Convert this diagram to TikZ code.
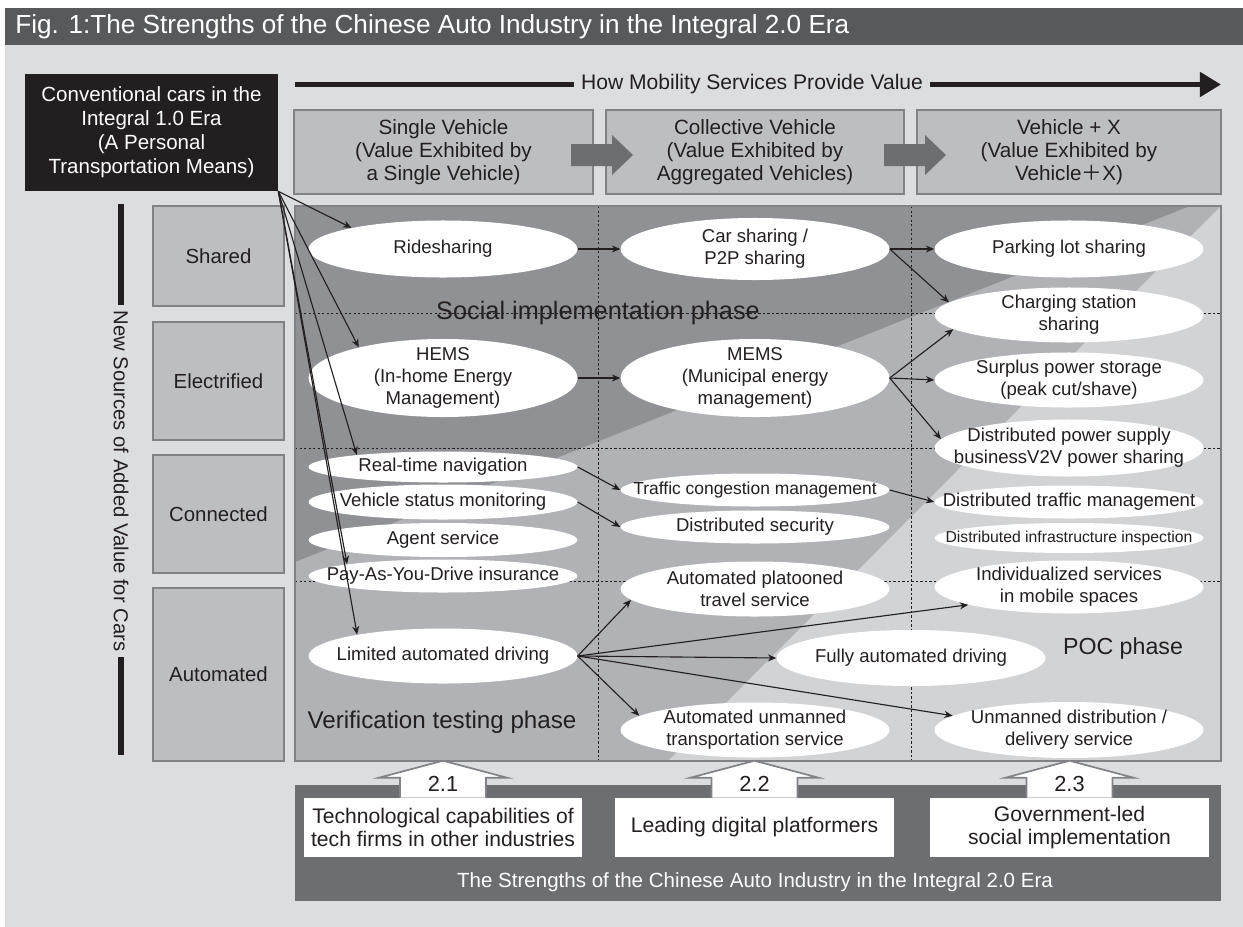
\documentclass[tikz,border=0pt]{standalone}
\usepackage{fontspec}
\setmainfont{Liberation Sans}
\newfontfamily\cjk{Noto Sans CJK SC}
\usetikzlibrary{shapes.geometric,arrows.meta}

\definecolor{inkblack}{HTML}{231F20}
\definecolor{titlegray}{HTML}{58595B}
\definecolor{bggray}{HTML}{DCDDDF}
\definecolor{boxgray}{HTML}{BCBEC0}
\definecolor{edgegray}{HTML}{808285}
\definecolor{darkzone}{HTML}{8F9194}
\definecolor{midzone}{HTML}{B0B2B5}
\definecolor{lightzone}{HTML}{D1D3D4}
\definecolor{bandgray}{HTML}{6D6E71}

\begin{document}
\begin{tikzpicture}[
                    x=0.025cm, y=-0.025cm,
                    txt/.style={align=center, text=inkblack, inner sep=0pt,
                        font=\fontsize{13.2}{15.5}\selectfont},
                    ell/.style={ellipse, fill=white, inner sep=0pt,
                        minimum width=6.72cm, minimum height=#1},
                    hdr/.style={draw=edgegray, line width=1.4pt, fill=boxgray,
                        minimum width=7.45cm, minimum height=2.1cm, align=center,
                        text=inkblack, font=\fontsize{14.7}{16.6}\selectfont},
                    cat/.style={draw=edgegray, line width=1.4pt, fill=boxgray,
                        minimum width=3.275cm, minimum height=#1,
                        text=inkblack, font=\fontsize{14.5}{17}\selectfont},
                    strength/.style={fill=white, minimum width=6.95cm,
                        minimum height=1.475cm, align=center, text=inkblack,
                        inner sep=0pt, font=\fontsize{15}{16.8}\selectfont},
                    phase/.style={text=inkblack, inner sep=0pt,
                        font=\fontsize{#1}{#1}\selectfont},
                    flow/.style={-{Stealth[length=6pt,width=5pt]},
                        line width=0.8pt, draw=inkblack},
                    gridline/.style={draw=inkblack, line width=0.5pt,
                        dash pattern=on 1.6pt off 1.6pt}
                ]
                    \useasboundingbox (0,0) rectangle (1243,927);

                    % Background and title
                    \fill[bggray] (5,45) rectangle (1243,927);
                    \fill[titlegray] (5,8) rectangle (1243,45);
                    \node[anchor=west, text=white, inner sep=0pt,
                        font=\fontsize{18.6}{20}\selectfont] (title) at (15,27)
                        {Fig. 1:The Strengths of the Chinese Auto Industry in the Integral 2.0 Era};

                    % Phases
                    \fill[midzone] (295,206) rectangle (1221,761);
                    \fill[darkzone] (295,206) -- (1190,206) -- (295,562) -- cycle;
                    \fill[lightzone] (1221,206) -- (1221,761) -- (668,761) -- cycle;
                    \foreach \y in {313,448,581}
                        \draw[gridline] (295,\y) -- (1221,\y);
                    \foreach \x in {598,911}
                        \draw[gridline] (\x,206) -- (\x,761);
                    \draw[edgegray, line width=1.4pt] (295,206) rectangle (1221,761);
                    \node[phase=18] (social) at (598,313) {Social implementation phase};
                    \node[phase=17.2] (verif) at (442,722) {Verification testing phase};
                    \node[phase=16.5] (poc) at (1123,648) {POC phase};

                    % Value axis
                    \coordinate (vstart) at (295,84.5);
                    \coordinate (vend) at (1221,84.5);
                    \draw[inkblack, line width=3.9pt,
                        -{Triangle[length=15pt,width=17pt]}] (vstart) -- (vend);
                    \node[fill=bggray, inner xsep=5pt, text=inkblack,
                        font=\fontsize{15}{16}\selectfont] (howval) at (752,84.5)
                        {How Mobility Services Provide Value};

                    \node[fill=inkblack, minimum width=6.325cm, minimum height=2.925cm,
                        align=center, text=white, font=\fontsize{14.6}{17}\selectfont]
                        (conv) at (151.5,132.5)
                        {Conventional cars in the\\Integral 1.0 Era\\(A Personal\\Transportation Means)};

                    \node[hdr] (single) at (443.5,152) {Single Vehicle\\(Value Exhibited by\\a Single Vehicle)};
                    \node[hdr] (collect) at (755,152) {Collective Vehicle\\(Value Exhibited by\\Aggregated Vehicles)};
                    \node[hdr, minimum width=7.6cm] (plusx) at (1069,152) {Vehicle + X\\(Value Exhibited by\\Vehicle{\cjk ＋}X)};
                    \foreach \x in {571,884}
                        \fill[bandgray] (\x,144) -- ++(41,0) -- ++(0,-9) -- ++(21,20)
                            -- ++(-21,20) -- ++(0,-9) -- ++(-41,0) -- cycle;

                    % Added value axis
                    \draw[inkblack, line width=4.3pt] (121,204) -- (121,755);
                    \node[rotate=-90, fill=bggray, inner xsep=4pt, text=inkblack,
                        font=\fontsize{14.4}{17}\selectfont] (newsrc) at (121,481)
                        {New Sources of Added Value for Cars};

                    \node[cat=2.5cm] (shared) at (218.5,256) {Shared};
                    \node[cat=2.95cm] (electr) at (218.5,381) {Electrified};
                    \node[cat=2.95cm] (connect) at (218.5,514) {Connected};
                    \node[cat=4.325cm] (autom) at (218.5,674.5) {Automated};

                    % Services
                    \node[ell=1.425cm, label={[txt]center:Ridesharing}] (ride) at (443,249) {};
                    \node[ell=1.95cm, label={[txt]center:{HEMS\\(In-home Energy\\Management)}}] (hems) at (443,378) {};
                    \node[ell=0.775cm, label={[txt]center:Real-time navigation}] (rtn) at (443,467) {};
                    \node[ell=0.875cm, label={[txt]center:Vehicle status monitoring}] (vsm) at (443,502) {};
                    \node[ell=0.85cm, label={[txt]center:Agent service}] (agent) at (443,540) {};
                    \node[ell=0.825cm, label={[txt]center:Pay-As-You-Drive insurance}] (payd) at (443,576) {};
                    \node[ell=1.375cm, label={[txt]center:Limited automated driving}] (lad) at (443,656) {};

                    \node[ell=1.55cm, label={[txt]center:{Car sharing /\\P2P sharing}}] (carsh) at (755,249) {};
                    \node[ell=1.95cm, label={[txt]center:{MEMS\\(Municipal energy\\management)}}] (mems) at (755,378) {};
                    \node[ell=0.825cm, label={[txt, font=\fontsize{12.4}{15}\selectfont]center:Traffic congestion management}] (tcm) at (755,490) {};
                    \node[ell=0.825cm, label={[txt]center:Distributed security}] (dsec) at (755,527) {};
                    \node[ell=1.375cm, label={[txt]center:{Automated platooned\\travel service}}] (plat) at (755,589) {};
                    \node[ell=1.375cm, label={[txt]center:{Automated unmanned\\transportation service}}] (aut) at (755,730) {};

                    \node[ell=1.425cm, label={[txt]center:Parking lot sharing}] (park) at (1069,249) {};
                    \node[ell=1.375cm, label={[txt]center:{Charging station\\sharing}}] (chg) at (1069,315) {};
                    \node[ell=1.375cm, label={[txt]center:{Surplus power storage\\(peak cut/shave)}}] (surp) at (1069,380) {};
                    \node[ell=1.425cm, label={[txt]center:{Distributed power supply\\businessV2V power sharing}}] (dps) at (1069,448) {};
                    \node[ell=0.825cm, label={[txt]center:Distributed traffic management}] (dtm) at (1069,502) {};
                    \node[ell=0.75cm, label={[txt, font=\fontsize{11.2}{14}\selectfont]center:Distributed infrastructure inspection}] (dii) at (1069,538) {};
                    \node[ell=1.325cm, label={[txt]center:{Individualized services\\in mobile spaces}}] (indiv) at (1069,587) {};
                    \node[ell=1.4cm, label={[txt]center:Fully automated driving}] (fad) at (911,658) {};
                    \node[ell=1.4cm, label={[txt]center:{Unmanned distribution /\\delivery service}}] (unm) at (1069,730) {};

                    % Edges
                    \draw[flow] (conv.south east) -- (ride.167);
                    \draw[flow] (conv.south east) -- (hems.160);
                    \draw[flow] (conv.south east) -- (rtn.172);
                    \draw[flow] (conv.south east) -- (payd.173);
                    \draw[flow] (conv.south east) -- (lad.166);
                    \draw[flow] (ride.east) -- (carsh.west);
                    \draw[flow] (hems.east) -- (mems.west);
                    \draw[flow] (rtn.east) -- (tcm.west);
                    \draw[flow] (vsm.east) -- (dsec.west);
                    \draw[flow] (carsh.east) -- (park.west);
                    \draw[flow] (carsh.east) -- (chg.174);
                    \draw[flow] (mems.east) -- (chg.187);
                    \draw[flow] (mems.east) -- (surp.west);
                    \draw[flow] (mems.east) -- (dps.176);
                    \draw[flow] (tcm.east) -- (dtm.west);
                    \draw[flow] (lad.east) -- (plat.185);
                    \draw[flow] (lad.east) -- (indiv.190);
                    \draw[flow] (lad.east) -- (fad.west);
                    \draw[flow] (lad.east) -- (aut.173);
                    \draw[flow] (lad.east) -- (unm.173);

                    % Strengths
                    \fill[bandgray] (295,785) rectangle (1221,901);
                    \node[strength] (tech) at (443,827.5) {Technological capabilities of\\tech firms in other industries};
                    \node[strength] (digi) at (754.5,827.5) {Leading digital platformers};
                    \node[strength] (gov) at (1069.5,827.5) {Government-led\\social implementation};
                    \foreach \b/\n in {tech/2.1, digi/2.2, gov/2.3} {
                        \draw[fill=white, draw=edgegray, line width=1.2pt]
                            (\b.north) ++(-43,0) -- ++(0,-20) -- ++(-21,0) -- ++(64,-17)
                            -- ++(64,17) -- ++(-21,0) -- ++(0,20);
                        \node[text=inkblack, inner sep=0pt, font=\fontsize{15.5}{17}\selectfont]
                            (num\b) at ([yshift=0.35cm]\b.north) {\n};
                    }
                    \node[text=white, inner sep=0pt, font=\fontsize{14.6}{17}\selectfont]
                        (bandtxt) at (755,882)
                        {The Strengths of the Chinese Auto Industry in the Integral 2.0 Era};
                \end{tikzpicture}
\end{document}
